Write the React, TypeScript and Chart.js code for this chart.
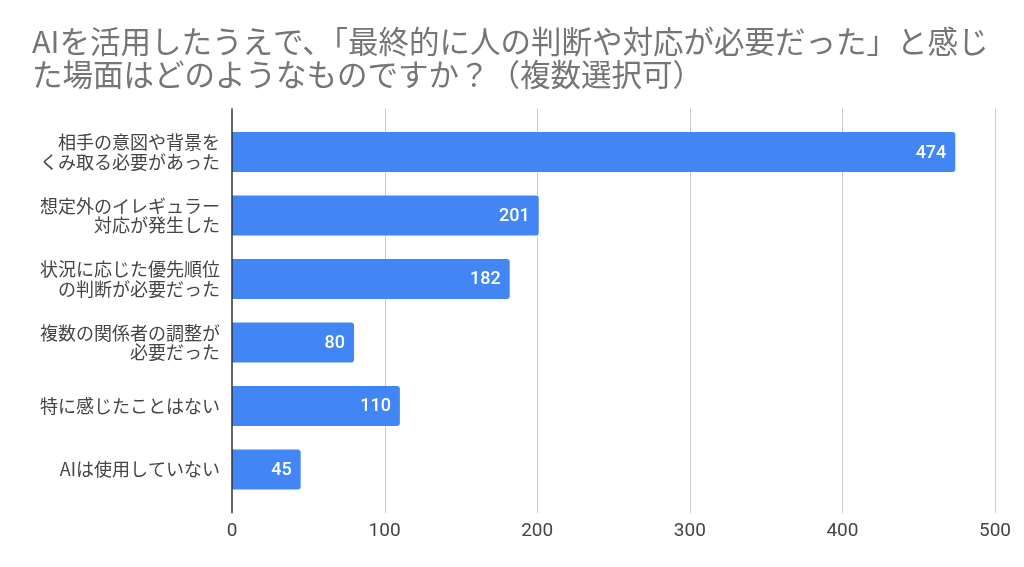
import React, { useEffect, useRef } from "react";
import { Chart, registerables } from "chart.js";

Chart.register(...registerables);

const titleLines = [
  "AIを活用したうえで、「最終的に人の判断や対応が必要だった」と感じ",
  "た場面はどのようなものですか？（複数選択可）",
];

const categories: (string | string[])[] = [
  ["相手の意図や背景を", "くみ取る必要があった"],
  ["想定外のイレギュラー", "対応が発生した"],
  ["状況に応じた優先順位", "の判断が必要だった"],
  ["複数の関係者の調整が", "必要だった"],
  "特に感じたことはない",
  "AIは使用していない",
];

const counts = [474, 201, 182, 80, 110, 45];

const axisMin = 0;
const axisMax = 500;
const axisStep = 100;

const CJK = '"Noto Sans CJK JP", "Noto Sans", sans-serif';
const NUM = 'Roboto, "Noto Sans", sans-serif';

// Vertical grid lines that run a little past the plot area, the dark zero line,
// and the value printed inside the end of each bar.
const barDecorations = {
  id: "barDecorations",
  beforeDatasetsDraw(chart: any) {
    const { ctx, chartArea, scales } = chart;
    const x = scales.x;
    ctx.save();
    ctx.lineWidth = 1;
    ctx.strokeStyle = "#cccccc";
    x.ticks.forEach((t: any) => {
      if (t.value === 0) return;
      const px = Math.round(x.getPixelForValue(t.value)) + 0.5;
      ctx.beginPath();
      ctx.moveTo(px, chartArea.top - 12);
      ctx.lineTo(px, chartArea.bottom + 12);
      ctx.stroke();
    });
    ctx.restore();
  },
  afterDatasetsDraw(chart: any) {
    const { ctx, chartArea, scales } = chart;
    const x = scales.x;
    ctx.save();
    const zx = x.getPixelForValue(0);
    ctx.lineWidth = 1.5;
    ctx.strokeStyle = "#333333";
    ctx.beginPath();
    ctx.moveTo(zx, chartArea.top - 12);
    ctx.lineTo(zx, chartArea.bottom + 12);
    ctx.stroke();

    const meta = chart.getDatasetMeta(0);
    ctx.fillStyle = "#ffffff";
    ctx.font = `500 18px ${NUM}`;
    ctx.textAlign = "right";
    ctx.textBaseline = "middle";
    meta.data.forEach((bar: any, i: number) => {
      const v = chart.data.datasets[0].data[i];
      ctx.fillText(String(v), bar.x - 9, bar.y + 1);
    });
    ctx.restore();
  },
};

export default function App() {
  const canvasRef = useRef<HTMLCanvasElement | null>(null);

  useEffect(() => {
    if (!canvasRef.current) return;
    const chart = new Chart(canvasRef.current, {
      type: "bar",
      data: {
        labels: categories,
        datasets: [
          {
            data: counts,
            backgroundColor: "#4285f4",
            borderRadius: 3,
            borderSkipped: "start",
            barPercentage: 0.63,
            categoryPercentage: 1,
          },
        ],
      },
      options: {
        indexAxis: "y",
        responsive: false,
        animation: false,
        layout: { padding: { left: 32, right: 29, top: 0, bottom: 5 } },
        plugins: {
          legend: { display: false },
          tooltip: { enabled: false },
          title: {
            display: true,
            text: titleLines,
            align: "start",
            color: "#757575",
            font: { family: CJK, size: 30.5, weight: "normal", lineHeight: 1.07 },
            padding: { top: 25, bottom: 30 },
          },
        },
        scales: {
          x: {
            min: axisMin,
            max: axisMax,
            grid: { display: false, drawTicks: false },
            border: { display: false },
            afterFit: (scale: any) => {
              scale.paddingRight = 0;
            },
            ticks: {
              stepSize: axisStep,
              color: "#444444",
              padding: 19,
              font: { family: NUM, size: 19, lineHeight: 1.2 },
            },
          },
          y: {
            grid: { display: false, drawTicks: false },
            border: { display: false },
            afterFit: (scale: any) => {
              scale.width = 200;
            },
            ticks: {
              color: "#444444",
              padding: 12,
              font: { family: CJK, size: 18, lineHeight: 1.08 },
            },
          },
        },
      },
      plugins: [barDecorations],
    });
    return () => chart.destroy();
  }, []);

  return (
    <div
      style={{
        position: "fixed",
        left: 0,
        top: 0,
        width: 1024,
        height: 567,
        background: "#ffffff",
      }}
    >
      <canvas ref={canvasRef} width={1024} height={567} />
    </div>
  );
}
